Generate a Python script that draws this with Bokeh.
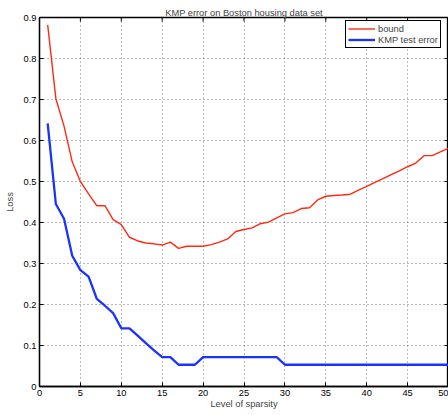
import math
from bokeh.plotting import figure
from bokeh.models import FixedTicker, Legend, LegendItem, ColumnDataSource
from bokeh.embed import file_html
from bokeh.resources import INLINE

sparsity = list(range(1, 51))
bound = [0.882, 0.702, 0.635, 0.548, 0.500, 0.470, 0.441, 0.441, 0.407, 0.395,
         0.364, 0.355, 0.350, 0.348, 0.345, 0.352, 0.337, 0.342, 0.342, 0.342,
         0.346, 0.352, 0.360, 0.378, 0.383, 0.387, 0.397, 0.401, 0.411, 0.421,
         0.424, 0.434, 0.436, 0.455, 0.464, 0.466, 0.467, 0.469, 0.479, 0.488,
         0.498, 0.507, 0.517, 0.526, 0.536, 0.545, 0.563, 0.563, 0.572, 0.581]
kmp_test_error = [0.642, 0.445, 0.409, 0.319, 0.284, 0.268, 0.214, 0.197, 0.179, 0.142,
                  0.142, 0.124, 0.106, 0.088, 0.0715, 0.0715, 0.053, 0.053, 0.053, 0.0715,
                  0.0715, 0.0715, 0.0715, 0.0715, 0.0715, 0.0715, 0.0715, 0.0715, 0.0715, 0.053,
                  0.053, 0.053, 0.053, 0.053, 0.053, 0.053, 0.053, 0.053, 0.053, 0.053,
                  0.053, 0.053, 0.053, 0.053, 0.053, 0.053, 0.053, 0.053, 0.053, 0.053]
x_ticks = [0, 5, 10, 15, 20, 25, 30, 35, 40, 45, 50]
y_ticks = [0, 0.1, 0.2, 0.3, 0.4, 0.5, 0.6, 0.7, 0.8, 0.9]
y_tick_labels = ["0", "0.1", "0.2", "0.3", "0.4", "0.5", "0.6", "0.7", "0.8", "0.9"]
x_tick_labels = ["0", "5", "10", "15", "20", "25", "30", "35", "40", "45", "50"]
X_MIN, X_MAX = 0, 50
Y_MIN, Y_MAX = 0, 0.9

FONT = "Liberation Sans"
FS = "9.3px"

src = ColumnDataSource(dict(x=sparsity, bound=bound, kmp=kmp_test_error))

p = figure(width=448, height=415, x_range=(X_MIN, X_MAX), y_range=(Y_MIN, Y_MAX),
           output_backend="svg", toolbar_location=None,
           min_border_left=39, min_border_right=0, min_border_top=17, min_border_bottom=29,
           title="KMP error on Boston housing data set")
p.title.align = "center"
p.title.text_font = FONT
p.title.text_font_size = FS
p.title.text_font_style = "normal"
p.title.standoff = 0
p.title.offset = 0

p.outline_line_color = "black"
p.outline_line_width = 1.3
p.outline_line_alpha = 1.0
p.background_fill_color = "white"
p.border_fill_color = "white"

def style_axis(ax, ticks):
    ax.ticker = FixedTicker(ticks=ticks)
    ax.major_tick_in = 4
    ax.major_tick_out = 0
    ax.minor_tick_line_color = None
    ax.major_tick_line_color = "black"
    ax.axis_line_color = "black"
    ax.axis_line_width = 1.3
    ax.major_label_text_font = FONT
    ax.axis_label_text_font = FONT
    ax.axis_label_text_font_style = "normal"
    ax.axis_label_text_font_size = FS
    ax.major_label_text_color = "black"
    ax.major_label_text_font_size = FS
    ax.major_label_standoff = 3

style_axis(p.xaxis[0], x_ticks)
style_axis(p.yaxis[0], y_ticks)
p.xaxis[0].major_label_overrides = {t: l for t, l in zip(x_ticks, x_tick_labels)}
p.yaxis[0].major_label_overrides = {t: l for t, l in zip(y_ticks, y_tick_labels)}
p.xaxis[0].axis_label = "Level of sparsity"
p.xaxis[0].axis_label_standoff = 0
p.yaxis[0].axis_label = "Loss"
p.yaxis[0].axis_label_standoff = 6

p.xgrid.ticker = FixedTicker(ticks=x_ticks)
p.ygrid.ticker = FixedTicker(ticks=y_ticks)
for g in (p.xgrid[0], p.ygrid[0]):
    g.grid_line_color = "#555555"
    g.grid_line_dash = "1 3"
    g.grid_line_width = 1
    g.grid_line_alpha = 0.8

# inward tick marks on the top and right edges of the box (clipped to the frame)
p.scatter(x_ticks, [Y_MAX] * len(x_ticks), marker="dash", size=8, angle=math.pi / 2,
          line_color="black", line_width=1)
p.scatter([X_MAX] * len(y_ticks), y_ticks, marker="dash", size=8,
          line_color="black", line_width=1)

r_bound = p.line("x", "bound", source=src, line_color="#ff2a10", line_width=1.4)
r_kmp = p.line("x", "kmp", source=src, line_color="#1a33ff", line_width=2.3)

legend = Legend(items=[LegendItem(label="bound", renderers=[r_bound]),
                       LegendItem(label="KMP test error", renderers=[r_kmp])],
                location=(306, 338))
legend.label_text_font = FONT
legend.label_text_font_size = FS
legend.border_line_color = "black"
legend.border_line_width = 1
legend.border_line_alpha = 1.0
legend.background_fill_alpha = 1.0
legend.padding = 2
legend.spacing = 0
legend.margin = 0
legend.label_height = 11
legend.glyph_height = 11
legend.glyph_width = 27
legend.label_standoff = 3
legend.label_text_baseline = "middle"
p.add_layout(legend, "center")

open("out.html", "w").write(file_html(p, INLINE))
